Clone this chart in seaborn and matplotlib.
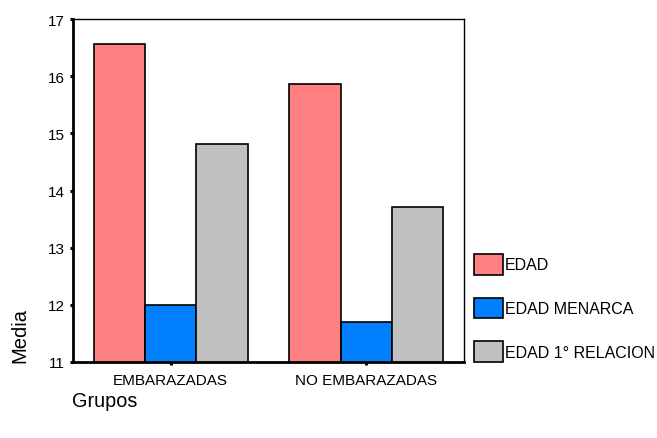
import matplotlib
matplotlib.use("Agg")
import matplotlib.pyplot as plt
import seaborn as sns
import pandas as pd

groups = ["EMBARAZADAS", "NO EMBARAZADAS"]
series = ["EDAD", "EDAD MENARCA", "EDAD 1° RELACION"]
edad = [16.56, 15.86]
edad_menarca = [12.0, 11.70]
edad_relacion = [14.81, 13.71]
colors = ["#FF8080", "#0080FF", "#C0C0C0"]
yticks = [11, 12, 13, 14, 15, 16, 17]

rows = []
for s, vals in zip(series, [edad, edad_menarca, edad_relacion]):
    for g, v in zip(groups, vals):
        rows.append({"Grupos": g, "Serie": s, "Media": v})
df = pd.DataFrame(rows)

sns.set_style("white")
plt.rcParams["font.family"] = ["Liberation Sans", "DejaVu Sans"]
for k in ["text.color", "axes.labelcolor", "xtick.color", "ytick.color"]:
    plt.rcParams[k] = "black"

fig = plt.figure(figsize=(6.57, 4.39), dpi=100)
ax = fig.add_axes([73/657, 1 - 363/439, (464-73)/657, (363-20)/439])

sns.barplot(data=df, x="Grupos", y="Media", hue="Serie", order=groups,
            hue_order=series, palette=colors, width=0.79, edgecolor="black",
            linewidth=1.2, ax=ax, errorbar=None, saturation=1)

ax.set_ylim(11, 17)
ax.set_xlim(-0.5, 1.5)
ax.set_yticks(yticks)
ax.set_yticklabels([str(t) for t in yticks])
ax.tick_params(axis="both", which="major", bottom=True, left=True,
               direction="out", length=2.2, width=2.2, color="black",
               labelcolor="black", labelsize=11)
ax.tick_params(axis="y", pad=4)
ax.tick_params(axis="x", pad=6)
for side in ["left", "bottom"]:
    ax.spines[side].set_linewidth(2)
    ax.spines[side].set_color("black")
for side in ["top", "right"]:
    ax.spines[side].set_linewidth(1)
    ax.spines[side].set_color("black")

ax.set_xlabel("")
ax.set_ylabel("")
fig.text(72/657, 1 - 402/439, "Grupos", fontsize=14.3, ha="left", va="center", color="black")
fig.text(20/657, 1 - 336/439, "Media", fontsize=14.5, ha="center", va="center",
         rotation=90, color="black")

leg = ax.legend(loc="upper left", bbox_to_anchor=((474-73)/391, (363-255)/343),
                frameon=False, fontsize=11.5, handlelength=1.8, handleheight=1.6,
                handletextpad=0.12, labelspacing=1.45, borderaxespad=0, borderpad=0)
for t in leg.get_texts():
    t.set_color("black")

fig.savefig("out.png", dpi=100)
